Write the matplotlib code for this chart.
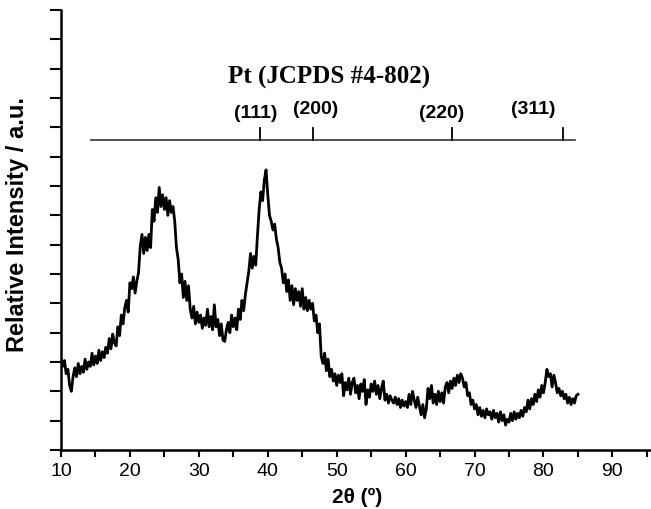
import numpy as np
import matplotlib
matplotlib.use("Agg")
import matplotlib.pyplot as plt
from matplotlib.ticker import MultipleLocator

# XRD 图谱数据（从图上读取，步长 0.25°）
intensity = [
    3.05,
    2.85, 3.05, 2.60, 2.75, 2.20, 2.00, 2.50, 2.80,
    2.50, 2.95, 2.60, 2.85, 2.65, 3.10, 2.75, 3.00,
    2.85, 3.30, 2.90, 3.20, 2.95, 3.40, 3.05, 3.35,
    3.15, 3.50, 3.30, 3.80, 3.45, 3.95, 3.65, 3.55,
    4.20, 3.90, 4.60, 4.30, 4.85, 5.10, 4.70, 5.70,
    5.50, 5.90, 5.35, 5.75, 6.05, 6.95, 7.35, 6.70,
    7.25, 6.80, 7.35, 6.90, 8.20, 7.80, 8.60, 8.10,
    8.95, 8.30, 8.70, 8.20, 8.60, 8.00, 8.50, 8.10,
    8.30, 7.80, 6.90, 6.50, 5.70, 6.00, 5.20, 5.75,
    5.10, 5.60, 4.80, 4.50, 4.90, 4.30, 4.70, 4.35,
    4.60, 4.15, 4.50, 4.25, 4.80, 4.20, 4.55, 4.10,
    4.95, 4.20, 4.45, 3.90, 4.30, 3.75, 3.70, 4.10,
    4.35, 4.00, 4.60, 4.20, 4.50, 4.10, 4.80, 4.45,
    5.10, 4.75, 5.30, 5.70, 6.10, 6.70, 6.20, 6.60,
    6.30, 7.30, 8.20, 8.80, 8.50, 9.20, 9.55, 8.70,
    8.00, 7.80, 7.50, 7.70, 7.20, 6.90, 6.40, 6.20,
    5.70, 6.00, 5.40, 5.80, 5.10, 5.60, 4.95, 5.50,
    5.10, 5.40, 4.90, 5.50, 4.80, 5.20, 4.75, 5.10,
    4.80, 5.00, 4.40, 4.60, 4.00, 4.30, 3.20, 2.95,
    3.30, 2.70, 3.10, 2.50, 2.75, 2.35, 2.60, 2.20,
    2.55, 2.30, 2.60, 1.85, 2.30, 2.05, 2.45, 1.90,
    2.30, 2.45, 1.95, 2.20, 1.75, 2.25, 2.00, 2.40,
    1.55, 2.05, 1.80, 2.25, 2.00, 2.35, 1.90, 2.20,
    1.75, 2.10, 2.35, 1.70, 1.90, 1.60, 1.85, 1.70,
    1.60, 1.80, 1.55, 1.75, 1.45, 1.70, 1.50, 1.65,
    1.45, 1.90, 1.55, 2.00, 1.70, 1.45, 1.80, 1.50,
    1.20, 1.55, 1.10, 1.40, 2.10, 1.75, 2.20, 1.60,
    1.90, 1.55, 2.00, 1.65, 1.95, 1.60, 2.15, 2.30,
    1.95, 2.35, 2.10, 2.45, 2.20, 2.55, 2.30, 2.60,
    2.45, 2.15, 2.30, 1.85, 1.95, 1.55, 1.70, 1.40,
    1.55, 1.20, 1.45, 1.15, 1.35, 1.10, 1.40, 1.20,
    1.30, 1.05, 1.35, 1.10, 1.25, 0.95, 1.30, 1.00,
    1.20, 0.85, 1.05, 0.95, 1.25, 1.00, 1.30, 1.05,
    1.25, 1.10, 1.35, 1.15, 1.45, 1.30, 1.70, 1.40,
    1.75, 1.55, 1.90, 1.65, 2.05, 1.80, 2.20, 1.95,
    2.30, 2.75, 2.50, 2.60, 2.15, 2.55, 2.30, 1.95,
    2.10, 1.85, 2.00, 1.75, 1.90, 1.60, 1.80, 1.55,
    1.75, 1.60, 1.85, 1.90,
]
two_theta = np.linspace(10, 85, len(intensity))

# Pt 标准卡片 (JCPDS #4-802) 的衍射峰位置
ref_peaks = [38.82, 46.52, 66.73, 82.79]
ref_labels = ["(111)", "(200)", "(220)", "(311)"]
ref_range = [14.4, 84.6]
ref_level = 10.57

plt.rcParams["font.family"] = ["Liberation Sans", "DejaVu Sans"]

fig = plt.figure(figsize=(6.51, 5.10), dpi=100)
ax = fig.add_axes([61 / 651, 59 / 510, 590 / 651, 440 / 510])

ax.plot(two_theta, intensity, color="black", lw=2.0)

# 标准峰位置的参考线
ax.plot(ref_range, [ref_level, ref_level], color="#333333", lw=1.2)
for p in ref_peaks:
    ax.plot([p, p], [ref_level, ref_level + 0.4], color="black", lw=1.3)

label_pos = [(38.2, 11.52), (46.9, 11.63), (65.2, 11.52), (78.5, 11.63)]
for (lx, ly), lab in zip(label_pos, ref_labels):
    ax.text(lx, ly, lab, ha="center", va="center", fontsize=14, fontweight="bold")

ax.text(48.9, 12.75, "Pt (JCPDS #4-802)", ha="center", va="center",
        fontsize=18, fontweight="bold", family=["Liberation Serif", "DejaVu Serif"])

ax.set_xlim(10, 95.6)
ax.set_ylim(0, 15)
ax.xaxis.set_major_locator(MultipleLocator(10))
ax.xaxis.set_minor_locator(MultipleLocator(5))
ax.yaxis.set_major_locator(MultipleLocator(1))
ax.set_yticklabels([])
ax.tick_params(axis="x", which="both", direction="out", length=5, width=1.5, labelsize=14, pad=4)
ax.tick_params(axis="y", which="both", direction="out", length=8, width=1.5)

for s in ["top", "right"]:
    ax.spines[s].set_visible(False)
for s in ["left", "bottom"]:
    ax.spines[s].set_linewidth(1.8)

fig.text(357 / 651, 1 - 497 / 510, "2θ (º)", ha="center", va="center",
         fontsize=15, fontweight="bold")
fig.text(18 / 651, 1 - 224 / 510, "Relative Intensity / a.u.", ha="center", va="center",
         rotation=90, fontsize=17, fontweight="bold")

fig.savefig("out.png", dpi=100)
